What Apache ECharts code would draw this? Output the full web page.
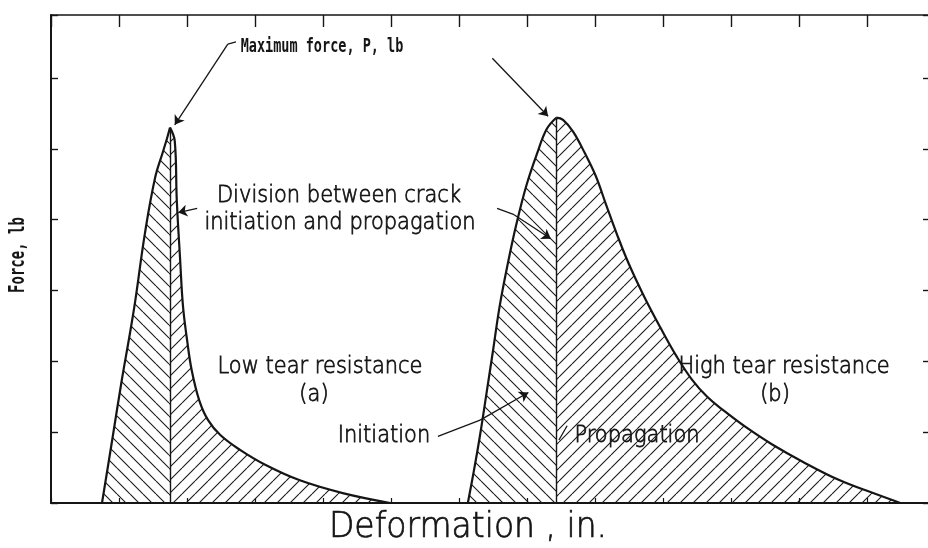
<!DOCTYPE html>
<html>
<head>
<meta charset="utf-8">
<script src="https://cdn.jsdelivr.net/npm/echarts@6/dist/echarts.min.js"></script>
<style>
  html, body { margin: 0; background: #fff; }
  #chart { width: 928px; height: 548px; }
</style>
</head>
<body>
<div id="chart"></div>
<script>
// curve (a), low tear resistance: [deformation, force] in tick units
const lowInit = [
  [0.75, 0], [0.9, 0.89], [1.04, 1.73], [1.16, 2.39], [1.24, 2.86],
  [1.38, 3.8], [1.53, 4.59], [1.65, 4.97], [1.71, 5.16], [1.75, 5.3]
];
const lowProp = [
  [1.75, 5.3], [1.82, 5.11], [1.85, 4.27], [1.9, 3.42], [1.94, 2.79],
  [2.0, 2.31], [2.07, 1.87], [2.18, 1.45], [2.31, 1.17], [2.49, 0.96],
  [2.78, 0.75], [3.15, 0.54], [3.66, 0.32], [4.29, 0.14], [4.99, 0]
];
// curve (b), high tear resistance
const highInit = [
  [6.13, 0], [6.22, 0.46], [6.31, 0.96], [6.4, 1.52], [6.5, 2.15],
  [6.6, 2.79], [6.72, 3.39], [6.84, 3.92], [6.99, 4.48], [7.15, 4.94],
  [7.29, 5.28], [7.43, 5.44]
];
const highProp = [
  [7.43, 5.44], [7.53, 5.41], [7.68, 5.24], [7.85, 4.94], [8.01, 4.62],
  [8.16, 4.22], [8.32, 3.8], [8.5, 3.37], [8.72, 2.92], [8.96, 2.48],
  [9.2, 2.07], [9.42, 1.75], [9.65, 1.5], [9.9, 1.3], [10.22, 1.07],
  [10.6, 0.83], [11.06, 0.58], [11.6, 0.32], [12.09, 0.14], [12.49, 0]
];

// leader lines of the annotations: [from, to, withArrow]
const leaders = [
  [[2.72, 6.51], [2.6, 6.48], false],
  [[2.6, 6.48], [1.82, 5.34], true],
  [[6.49, 6.28], [7.31, 5.46], true],
  [[2.15, 4.16], [1.87, 4.1], true],
  [[6.56, 4.16], [6.81, 4.07], false],
  [[6.81, 4.07], [7.35, 3.73], true],
  [[5.69, 0.94], [6.31, 1.17], false],
  [[6.31, 1.17], [7.02, 1.56], true],
  [[7.59, 1.09], [7.47, 0.89], false]
];

const xMax = 13;
const yMax = 6.89;

function hatch(dir) {
  const s = 13;
  const c = document.createElement('canvas');
  c.width = c.height = s;
  const g = c.getContext('2d');
  g.strokeStyle = '#1a1a1a';
  g.lineWidth = 1.1;
  g.beginPath();
  [-s, 0, s].forEach(o => {
    if (dir === 'back') { g.moveTo(o, 0); g.lineTo(o + s, s); }
    else { g.moveTo(o, s); g.lineTo(o + s, 0); }
  });
  g.stroke();
  return c;
}

const ink = '#151515';
const thin = "'DejaVu Sans'";
const mono = "'DejaVu Sans Mono'";

function curve(data, dir, divide) {
  const s = {
    type: 'line',
    data: data,
    symbol: 'none',
    smooth: 0.4,
    silent: true,
    lineStyle: { color: ink, width: 2.2 },
    areaStyle: { color: { image: hatch(dir), repeat: 'repeat' }, opacity: 1 }
  };
  if (divide) {
    const top = data[data.length - 1];
    s.markLine = {
      silent: true,
      symbol: 'none',
      label: { show: false },
      lineStyle: { type: 'solid', color: ink, width: 1.4 },
      data: [[{ coord: [top[0], 0] }, { coord: [top[0], top[1]] }]]
    };
  }
  return s;
}

function label(text, x, y, size, extra) {
  return Object.assign({
    type: 'text', x: x, y: y, scaleY: 1.12,
    style: {
      text: text, font: '200 ' + size + 'px ' + thin, fill: ink,
      stroke: ink, lineWidth: 0.7,
      align: 'center', verticalAlign: 'middle'
    }
  }, extra || {});
}

const chart = echarts.init(document.getElementById('chart'));

const axisBase = {
  type: 'value',
  axisLabel: { show: false },
  splitLine: { show: false },
  axisLine: { onZero: false, lineStyle: { color: ink, width: 2 } },
  axisTick: { inside: true, length: 7, lineStyle: { color: ink, width: 1.4 } }
};

chart.setOption({
  animation: false,
  grid: { left: 51, top: 15, right: -7, bottom: 45, outerBoundsMode: 'none' },
  xAxis: [
    Object.assign({}, axisBase, {
      min: 0, max: xMax, interval: 1, position: 'bottom',
      axisTick: { inside: true, length: 5, lineStyle: { color: ink, width: 1.2 } }
    }),
    Object.assign({}, axisBase, {
      min: 0, max: xMax, interval: 1, position: 'top',
      axisLine: { onZero: false, lineStyle: { color: ink, width: 1.6 } },
      axisTick: { inside: true, length: 12, lineStyle: { color: ink, width: 1.4 } }
    })
  ],
  yAxis: [
    Object.assign({}, axisBase, { min: 0, max: yMax, interval: 1, position: 'left' }),
    Object.assign({}, axisBase, {
      min: 0, max: yMax, interval: 1, position: 'right',
      axisTick: { inside: true, length: 12, lineStyle: { color: ink, width: 1.4 } }
    })
  ],
  series: [
    curve(lowInit, 'back', true),
    curve(lowProp, 'fwd', false),
    curve(highInit, 'back', true),
    Object.assign(curve(highProp, 'fwd', false), {
      markLine: {
        silent: true,
        label: { show: false },
        lineStyle: { type: 'solid', color: ink, width: 1.3 },
        data: leaders.map(l => [
          { coord: l[0], symbol: 'none' },
          { coord: l[1], symbol: l[2] ? 'arrow' : 'none', symbolSize: 9 }
        ])
      }
    })
  ],
  graphic: [
    {
      type: 'text', x: 322, y: 47, scaleY: 1.5,
      style: { text: 'Maximum force, P, lb', font: 'bold 13.5px ' + mono, fill: ink, align: 'center', verticalAlign: 'middle' }
    },
    {
      type: 'text', x: 19, y: 255, rotation: Math.PI / 2, scaleY: 1.45,
      style: { text: 'Force, lb', font: 'bold 14px ' + mono, fill: ink, align: 'center', verticalAlign: 'middle' }
    },
    label('Division between crack', 339, 196, 21),
    label('initiation and propagation', 340, 223, 21),
    label('Low tear resistance', 320, 367, 21),
    label('(a)', 314, 395, 21),
    label('High tear resistance', 784, 367, 21),
    label('(b)', 775, 395, 21),
    label('Initiation', 384, 436, 21),
    label('Propagation', 637, 436, 21),
    label('Deformation , in.', 468, 528, 33, { scaleY: 1.05 })
  ]
});
</script>
</body>
</html>
